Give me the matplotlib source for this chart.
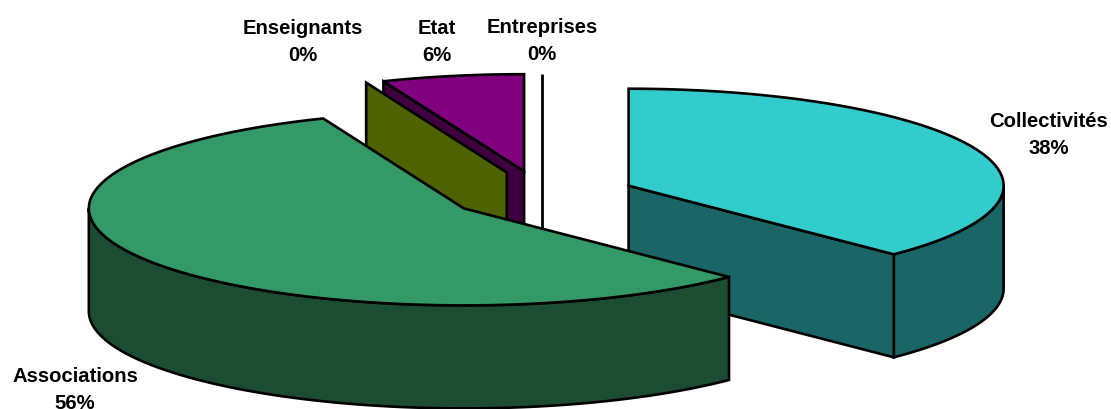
import numpy as np
import matplotlib
matplotlib.use("Agg")
import matplotlib.pyplot as plt

# slices, clockwise from 12 o'clock
names = ["Collectivités", "Associations", "Enseignants", "Etat", "Entreprises"]
shares = [37.5, 56.38, 0.0, 6.12, 0.0]
top_colors = ["#33CCCC", "#339966", "#9FC800", "#800080", "#FFFFFF"]
side_colors = ["#1A6666", "#1C4D33", "#4F6200", "#400040", "#000000"]

# pie geometry, in pixels
CX, CY = 542.0, 196.0
RX, RY = 375.0, 97.0
DEPTH = 103.0
EXPLODE = 0.25
LW = 1.9

label_pos = [(1049, 135), (75, 390), (303, 42), (437, 42), (542, 41)]

fig = plt.figure(figsize=(11.11, 4.10), dpi=100)
ax = fig.add_axes([0, 0, 1, 1])


def point(ang, center, r=1.0):
    t = np.radians(ang)
    return center[0] + r * RX * np.sin(t), center[1] - r * RY * np.cos(t)


def draw_slice(start, end, top, side):
    mid = (start + end) / 2
    c = point(mid, (CX, CY), EXPLODE)
    style = dict(edgecolor="black", linewidth=LW, joinstyle="miter")

    # outer wall, only the part that faces the viewer
    a, b = max(start, 90), min(end, 270)
    if b > a:
        arc = np.linspace(a, b, 80)
        xs, ys = point(arc, c)
        ax.fill(
            np.r_[xs, xs[::-1]],
            np.r_[ys, ys[::-1] + DEPTH],
            facecolor=side,
            **style,
        )

    # cut faces that can be seen from the front
    faces = []
    if start > 180:
        faces.append(start)
    if 90 < end <= 180:
        faces.append(end)
    for ang in faces:
        x, y = point(ang, c)
        if abs(x - c[0]) < 1:
            # seen edge on, just a line
            ax.plot(
                [x, x],
                [y, c[1] + DEPTH],
                color="black",
                lw=2.0,
                solid_capstyle="butt",
                zorder=0.5,
            )
            continue
        ax.fill(
            [c[0], x, x, c[0]],
            [c[1], y, y + DEPTH, c[1] + DEPTH],
            facecolor=side,
            **style,
        )

    # top face
    if end > start:
        arc = np.linspace(start, end, 120)
        xs, ys = point(arc, c)
        ax.fill(np.r_[c[0], xs], np.r_[c[1], ys], facecolor=top, **style)


# work out the angles, then paint back to front
angles = np.r_[0, np.cumsum(shares)] * 3.6
for i in [4, 3, 2, 0, 1]:
    draw_slice(angles[i], angles[i + 1], top_colors[i], side_colors[i])

for name, val, (x, y) in zip(names, shares, label_pos):
    ax.text(
        x,
        y,
        f"{name}\n{val:.0f}%",
        ha="center",
        va="center",
        family="Liberation Sans",
        fontweight="bold",
        fontsize=14.6,
        linespacing=1.55,
        color="black",
    )

ax.set_xlim(0, 1111)
ax.set_ylim(410, 0)
ax.axis("off")
fig.savefig("out.png", dpi=100)
